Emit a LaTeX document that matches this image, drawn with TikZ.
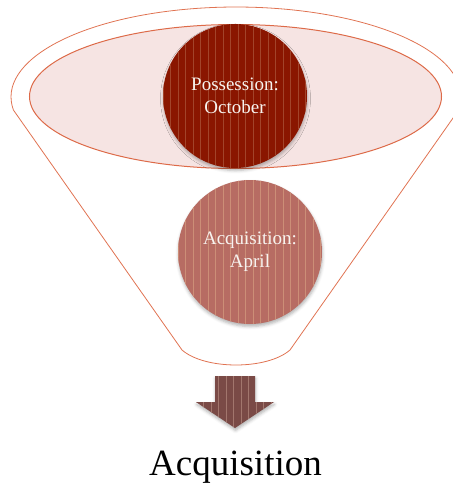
\documentclass[tikz,border=0pt]{standalone}
\usepackage{tikz}
\usepackage{xcolor}
\usepackage{fontspec}
\setmainfont{Liberation Serif}
\definecolor{funnelline}{HTML}{E07352}
\definecolor{rimfill}{HTML}{F6E4E3}
\definecolor{rimline}{HTML}{DD6A48}
\definecolor{possess}{HTML}{8A1600}
\definecolor{possessstripe}{HTML}{A2442A}
\definecolor{acquire}{HTML}{B76C63}
\definecolor{acquirestripe}{HTML}{CC8E77}
\definecolor{arrowfill}{HTML}{7A4A46}
\definecolor{arrowstripe}{HTML}{A2766D}
\definecolor{labeltext}{HTML}{F7F3EF}
\usetikzlibrary{shadows.blur}

\begin{document}
\begin{tikzpicture}[
        x=1pt, y=-1pt,
        funnel_line/.style={draw=funnelline, line width=0.8pt},
        rim/.style={draw=rimline, line width=1pt, fill=rimfill},
        stripes/.style={
            path picture={
                \foreach \s in {0,7.5,...,150} {
                    \draw[#1, line width=0.8pt]
                        ([xshift=\s pt]path picture bounding box.north west) --
                        ([xshift=\s pt]path picture bounding box.south west);
                }
            }
        },
        soft_shadow/.style={
            blur shadow={shadow xshift=0.5pt, shadow yshift=-2.5pt,
                shadow blur radius=3pt, shadow opacity=30}
        },
        stage/.style={
            circle,
            minimum size=144pt,
            inner sep=0pt,
            align=center,
            text=labeltext,
            font=\fontsize{19}{23}\selectfont,
            soft_shadow
        }
    ]
    \useasboundingbox (0,0) rectangle (452,489);

    % Funnel outline
    \draw[funnel_line] (13.4,110)
        arc[start angle=171.7, end angle=368.3, x radius=225, y radius=90]
        -- (290,350) .. controls (267,370) and (205,370) .. (182,350) -- cycle;

    % Rim of the funnel
    \draw[rim] (235.5,96.5) ellipse[x radius=206, y radius=72];

    % Stages
    \node[stage, fill=possess, stripes=possessstripe] (possession) at (235,96) {Possession:\\October};
    \node[stage, fill=acquire, stripes=acquirestripe] (acquisition) at (250,252) {Acquisition:\\April};

    % Outlet arrow
    \path[fill=arrowfill, stripes=arrowstripe, soft_shadow]
        (215,376) -- (255,376) -- (255,402) -- (274,402) -- (235,428) -- (196,402) -- (215,402) -- cycle;

    % Result
    \node[font=\fontsize{37}{42}\selectfont, anchor=base] (result) at (235.5,475) {Acquisition};

\end{tikzpicture}
\end{document}
